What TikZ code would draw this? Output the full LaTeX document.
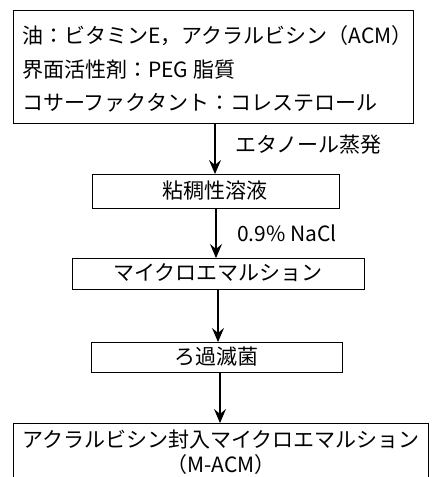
\documentclass[tikz,border=0pt]{standalone}
\usepackage{fontspec}
\newfontfamily\jp{Noto Sans CJK JP}
\usetikzlibrary{arrows.meta}
\tikzset{
  box/.style={draw, line width=1.1pt, inner sep=0pt, anchor=north west},
  lbl/.style={font=\jp\fontsize{21}{25}\selectfont, inner sep=0pt},
  flow/.style={line width=1.1pt, -{Stealth[length=14pt, width=12pt, inset=5pt]}}
}
\begin{document}
\begin{tikzpicture}[x=1pt,y=-1pt]
\useasboundingbox (0,0) rectangle (434,477);
\clip (0,0) rectangle (434,477);
% boxes
\node[box, minimum width=400pt, minimum height=113pt] (b1) at (13,10) {};
\node[box, minimum width=247pt, minimum height=34pt] (b2) at (92,174) {};
\node[box, minimum width=292pt, minimum height=31pt] (b3) at (72,258) {};
\node[box, minimum width=251pt, minimum height=30pt] (b4) at (91,342) {};
\node[box, minimum width=415pt, minimum height=70pt] (b5) at (13,423) {};
% texts
\node[lbl, anchor=west] (t1) at (22,36) {油：ビタミンE，アクラルビシン（ACM）};
\node[lbl, anchor=west] (t2) at (22,70) {界面活性剤：PEG 脂質};
\node[lbl, anchor=west] (t3) at (22,103) {コサーファクタント：コレステロール};
\node[lbl] (t4) at (215,191) {粘稠性溶液};
\node[lbl] (t5) at (218,273) {マイクロエマルション};
\node[lbl] (t6) at (216,357) {ろ過滅菌};
\node[lbl] (t7) at (221,439) {アクラルビシン封入マイクロエマルション};
\node[lbl] (t8) at (221,465) {（M-ACM）};
% connectors
\coordinate (a1) at (215,123);
\draw[flow] (a1) -- (a1 |- b2.north);
\coordinate (a2) at (216,208);
\draw[flow] (a2) -- (a2 |- b3.north);
\coordinate (a3) at (218,289);
\draw[flow] (a3) -- (a3 |- b4.north);
\coordinate (a4) at (220,372);
\draw[flow] (a4) -- (a4 |- b5.north);
% edge labels
\node[lbl, anchor=west] (e1) at (235,145) {エタノール蒸発};
\node[lbl, anchor=west] (e2) at (237,233) {0.9\% NaCl};
\end{tikzpicture}
\end{document}
